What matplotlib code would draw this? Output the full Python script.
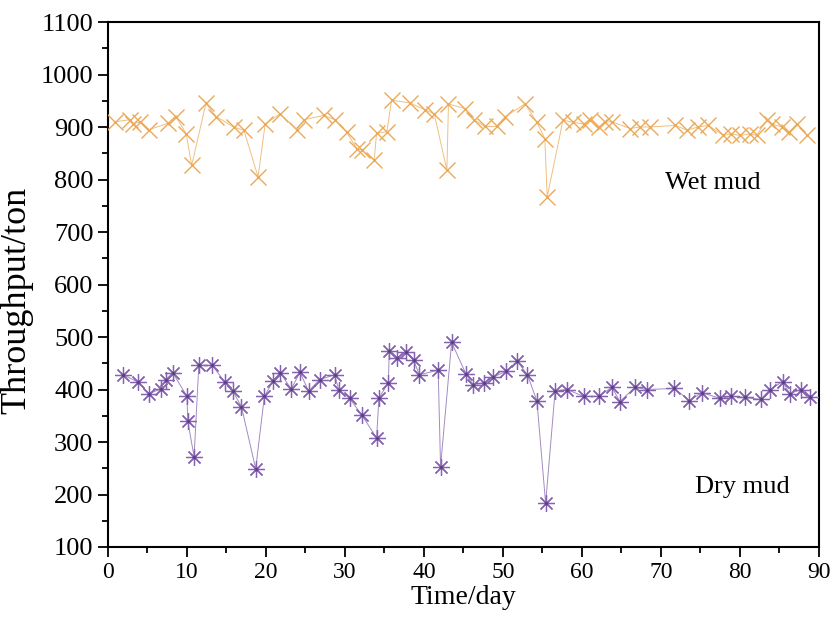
import matplotlib
matplotlib.use("Agg")
import matplotlib.pyplot as plt
from matplotlib.ticker import MultipleLocator

plt.rcParams['font.family'] = ['Liberation Serif', 'DejaVu Serif']

wet_days = [0.9, 2.8, 3.2, 4.05, 5.2, 7.6, 8.6, 9.9, 10.6, 12.4, 13.7, 15.9, 17.2, 19.0,
            19.9, 21.8, 23.9, 24.8, 27.3, 28.7, 30.2, 31.5, 32.1, 33.7, 34.0, 35.3, 35.9,
            38.2, 40.1, 41.3, 42.9, 43.1, 45.2, 46.3, 47.7, 49.2, 50.3, 52.8, 54.3, 55.3,
            55.6, 57.6, 58.9, 60.2, 61.0, 62.1, 62.9, 63.8, 66.1, 67.3, 68.6, 71.8, 73.3,
            74.7, 76.0, 77.9, 78.9, 80.0, 81.3, 82.1, 83.4, 84.0, 85.3, 86.2, 87.2, 88.5]
wet_tons = [910, 914, 906, 910, 895, 907, 920, 887, 827, 945, 920, 900, 894, 805,
            906, 925, 895, 914, 922, 914, 890, 859, 856, 837, 888, 891, 951,
            946, 933, 925, 818, 944, 935, 914, 901, 901, 920, 944, 909, 878,
            767, 913, 909, 906, 913, 900, 910, 910, 897, 900, 900, 903, 894,
            900, 903, 884, 887, 884, 887, 884, 913, 906, 900, 890, 906, 884]

dry_days = [1.95, 3.8, 5.2, 6.7, 7.3, 8.2, 10.0, 10.1, 10.9, 11.5, 13.2, 14.8, 15.8, 16.9,
            18.7, 19.8, 20.9, 21.8, 23.2, 24.3, 25.4, 26.8, 28.7, 29.2, 30.6, 32.1, 34.0,
            34.3, 35.5, 35.6, 36.6, 37.7, 38.7, 39.4, 41.8, 42.1, 43.5, 45.3, 46.2, 47.6,
            48.8, 50.4, 51.8, 53.1, 54.3, 55.4, 56.6, 58.1, 60.2, 62.1, 63.8, 64.8, 66.7,
            68.2, 71.7, 73.6, 75.2, 77.5, 78.9, 80.6, 82.6, 83.8, 85.4, 86.3, 87.7, 88.9]
dry_tons = [428, 414, 392, 401, 419, 432, 387, 340, 272, 446, 446, 414, 397, 367,
            249, 387, 416, 432, 401, 433, 397, 419, 428, 400, 383, 352, 308,
            384, 413, 473, 460, 471, 456, 428, 437, 253, 490, 430, 409, 413,
            424, 435, 454, 428, 378, 183, 397, 400, 387, 387, 404, 377, 404,
            400, 402, 379, 394, 383, 387, 385, 381, 400, 415, 392, 400, 385]

fig = plt.figure(figsize=(8.35, 6.24), dpi=100)
ax = fig.add_axes([0.1293, 0.1234, 0.8515, 0.8413])

wet_color = '#EBAA58'
dry_color = '#8464AE'

ax.plot(wet_days, wet_tons, color=wet_color, lw=0.7, alpha=0.75, zorder=2)
ax.plot(wet_days, wet_tons, ls='none', marker='x', ms=12, mew=1.0,
        mec=wet_color, zorder=3)
ax.plot(dry_days, dry_tons, color=dry_color, lw=0.7, alpha=0.75, zorder=2)
ax.plot(dry_days, dry_tons, ls='none', marker=(8, 2, 0), ms=12, mew=0.9,
        mec=dry_color, zorder=3)
ax.plot(dry_days, dry_tons, ls='none', marker='o', ms=2.2, mew=0,
        mfc='#5B3F85', zorder=4)

ax.set_xlim(0, 90)
ax.set_ylim(100, 1100)
ax.xaxis.set_major_locator(MultipleLocator(10))
ax.xaxis.set_minor_locator(MultipleLocator(5))
ax.yaxis.set_major_locator(MultipleLocator(100))
ax.yaxis.set_minor_locator(MultipleLocator(50))
ax.tick_params(which='both', direction='out', top=False, right=False,
               width=1.3, colors='black')
ax.tick_params(axis='x', labelsize=17)
ax.tick_params(axis='y', labelsize=19)
ax.tick_params(which='major', length=7)
ax.tick_params(which='minor', length=4)
for s in ax.spines.values():
    s.set_linewidth(1.5)

ax.set_xlabel('Time/day', fontsize=20, labelpad=2)
ax.set_ylabel('Throughput/ton', fontsize=26)
ax.yaxis.set_label_coords(-0.105, 0.47)

ax.text(76.5, 793, 'Wet mud', fontsize=19, ha='center', va='center')
ax.text(80.3, 215, 'Dry mud', fontsize=19, ha='center', va='center')

fig.savefig('out.png', dpi=100)
